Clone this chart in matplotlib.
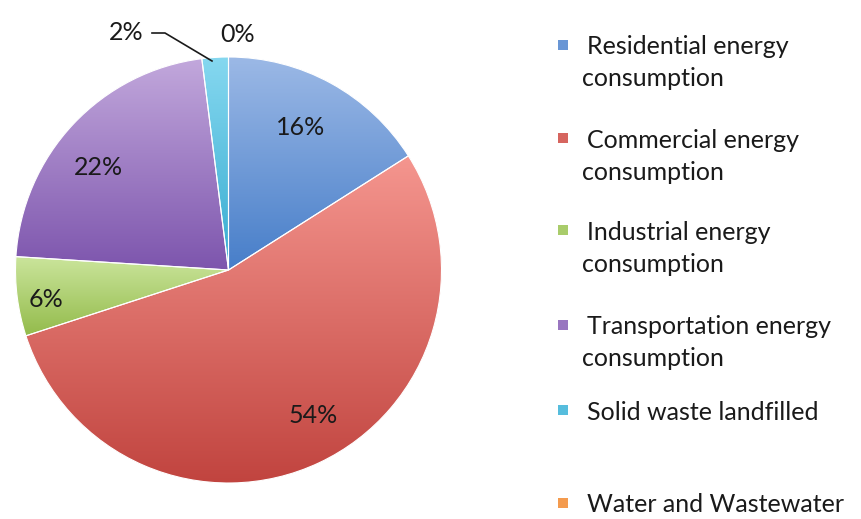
import numpy as np
import matplotlib
matplotlib.use("Agg")
import matplotlib.pyplot as plt
from matplotlib.colors import to_rgb
from matplotlib.patches import Rectangle, Wedge

# Share of emissions by sector
categories = [
    "Residential energy\nconsumption",
    "Commercial energy\nconsumption",
    "Industrial energy\nconsumption",
    "Transportation energy\nconsumption",
    "Solid waste landfilled",
    "Water and Wastewater",
]
shares = [16, 54, 6, 22, 2, 0]
# (light, dark) ends of each slice's vertical gradient
tints = [
    ("#9cb9e6", "#477ec9"),
    ("#f5968f", "#c1443f"),
    ("#cbe59c", "#93bb4b"),
    ("#c2a8dc", "#7d55ad"),
    ("#86d8f0", "#36abd0"),
    ("#fbb47a", "#ef8a30"),
]

W, H = 862, 519
plt.rcParams["font.family"] = ["Lato", "DejaVu Sans"]
FS = 18
TXT = "#1a1a1a"

fig = plt.figure(figsize=(W / 100, H / 100), dpi=100)
fig.patch.set_facecolor("white")

# pie box in pixels: centre (228.5, 270), radius 213
cx, cy, R = 228.5, 270, 213
ax = fig.add_axes([(cx - R) / W, 1 - (cy + R) / H, 2 * R / W, 2 * R / H])
ax.axis("off")

wedges, _ = ax.pie(shares, colors=[d for _, d in tints], startangle=90,
                   counterclock=False, radius=1, center=(0, 0),
                   wedgeprops=dict(edgecolor="white", linewidth=0.8))


def blend(light, dark, t):
    a, b = np.array(to_rgb(light)), np.array(to_rgb(dark))
    return a * (1 - t) + b * t


ts = np.linspace(0, 1, 256)
for w, (lc, dc) in zip(wedges, tints):
    if w.theta2 - w.theta1 <= 0:
        continue
    # gradient spans the slice's own vertical extent
    ext = w.get_path().get_extents(w.get_patch_transform())
    grad = np.array([blend(lc, dc, t) for t in ts])[:, None, :]
    grad = np.repeat(grad, 2, axis=1)
    im = ax.imshow(grad, extent=(ext.x0, ext.x1, ext.y0, ext.y1), origin="upper",
                   aspect="auto", zorder=w.get_zorder() + 0.1)
    im.set_clip_path(w)
    ax.add_patch(Wedge(w.center, w.r, w.theta1, w.theta2, facecolor="none",
                       edgecolor="white", linewidth=0.8,
                       zorder=w.get_zorder() + 0.2))

ax.set_xlim(-1, 1)
ax.set_ylim(-1, 1)

# percentage labels: (radial distance, angular nudge in degrees)
label_pos = [(0.75, 2), (0.79, 5), (0.87, 2), (0.78, 5)]
for w, v, (rd, dth) in zip(wedges[:4], shares[:4], label_pos):
    mid = np.deg2rad((w.theta1 + w.theta2) / 2 + dth)
    ax.text(rd * np.cos(mid), rd * np.sin(mid), f"{v:.0f}%", ha="center",
            va="center", fontsize=FS, color=TXT, zorder=10)


def px(x, y):
    return ((x - cx) / R, (cy - y) / R)


# small slices labelled above the pie, one with a leader line
ax.text(*px(126, 32), f"{shares[4]:.0f}%", ha="center", va="center",
        fontsize=FS, color=TXT, clip_on=False)
ax.text(*px(238, 34), f"{shares[5]:.0f}%", ha="center", va="center",
        fontsize=FS, color=TXT, clip_on=False)
lx, ly = zip(px(152, 33), px(165, 33), px(212, 61))
ax.plot(lx, ly, color=TXT, linewidth=1.2, clip_on=False, zorder=10)

# legend on the right
entry_y = [47, 140, 232, 327, 412, 505]
for lab, (lc, dc), y in zip(categories, tints, entry_y):
    fig.patches.append(Rectangle((558 / W, 1 - (y + 3) / H), 10 / W, 10 / H,
                                 transform=fig.transFigure,
                                 facecolor=blend(lc, dc, 0.6), edgecolor="none"))
    lines = lab.split("\n")
    fig.text(587 / W, 1 - y / H, lines[0], ha="left", va="center",
             fontsize=FS, color=TXT)
    if len(lines) > 1:
        fig.text(582 / W, 1 - (y + 32) / H, lines[1], ha="left", va="center",
                 fontsize=FS, color=TXT)

fig.savefig("out.png", dpi=100)
